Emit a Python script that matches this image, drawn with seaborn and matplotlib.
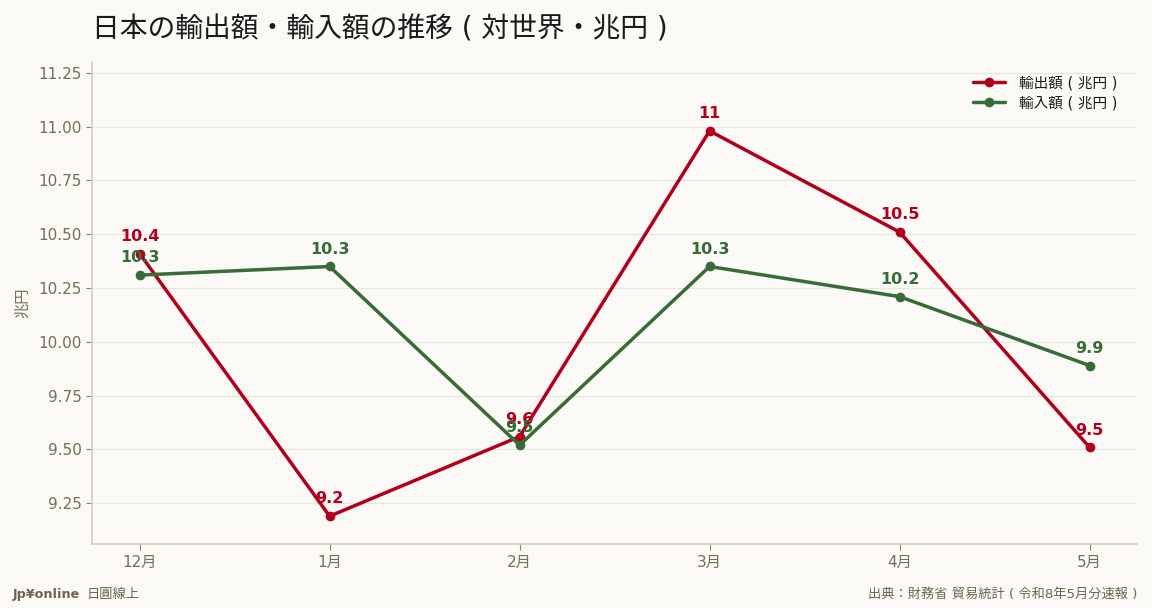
import pandas as pd
import matplotlib.pyplot as plt
import seaborn as sns

months = ["12月", "1月", "2月", "3月", "4月", "5月"]
exports = [10.41, 9.19, 9.56, 10.98, 10.51, 9.51]
imports = [10.31, 10.35, 9.52, 10.35, 10.21, 9.89]
series_names = ["輸出額 ( 兆円 )", "輸入額 ( 兆円 )"]

df = pd.DataFrame({
    "月": months * 2,
    "値": exports + imports,
    "系列": [series_names[0]] * len(months) + [series_names[1]] * len(months),
})

bg = "#FAF9F5"
red = "#B0001E"
green = "#376B38"
tick_col = "#7A6C57"

sns.set_theme(style="white")
plt.rcParams["font.family"] = ["DejaVu Sans", "Noto Sans CJK JP"]

fig, ax = plt.subplots(figsize=(11.52, 6.08), dpi=100)
fig.patch.set_facecolor(bg)
ax.set_facecolor(bg)
fig.subplots_adjust(left=0.08, right=0.987, top=0.898, bottom=0.105)

sns.lineplot(data=df, x="月", y="値", hue="系列", palette=[red, green],
             marker="o", markersize=7, markeredgewidth=0, linewidth=2.5,
             sort=False, ax=ax)

# value labels above each point
for vals, col in [(exports, red), (imports, green)]:
    for i, v in enumerate(vals):
        lab = f"{round(v, 1):g}"
        ax.annotate(lab, (i, v), xytext=(0, 7), textcoords="offset points",
                    ha="center", va="bottom", color=col, fontsize=11.5,
                    fontweight="bold")

ax.set_xlim(-0.25, 5.25)
ax.set_ylim(9.06, 11.30)
ax.set_yticks([9.25, 9.5, 9.75, 10.0, 10.25, 10.5, 10.75, 11.0, 11.25])
ax.set_yticklabels([f"{t:.2f}" for t in ax.get_yticks()])
ax.yaxis.grid(True, color="#E9E5DA", linewidth=0.8)
ax.xaxis.grid(False)
for s in ["top", "right"]:
    ax.spines[s].set_visible(False)
for s in ["left", "bottom"]:
    ax.spines[s].set_color("#D8D0BC")
ax.tick_params(axis="both", colors=tick_col, labelsize=11, length=4,
               width=0.8, left=True, bottom=True)
ax.tick_params(axis="both", color="#8A7E6A")
ax.set_xlabel("")
ax.set_ylabel("兆円", color=tick_col, fontsize=11, labelpad=6)

ax.set_title("日本の輸出額・輸入額の推移 ( 対世界・兆円 )", loc="left",
             fontsize=20, color="#1A1A1A", pad=18)

leg = ax.legend(loc="upper right", bbox_to_anchor=(0.994, 1.0), frameon=False,
                fontsize=10.5, handlelength=2.2, handletextpad=1.0,
                borderaxespad=0.5, labelspacing=0.35)
for t in leg.get_texts():
    t.set_color("#1A1A1A")

fig.text(0.011, 0.022, "Jp¥online", fontsize=9.2, fontweight="bold",
         color="#6F6450", ha="left", va="center")
fig.text(0.075, 0.022, "日圓線上", fontsize=9.5, color="#6F6450",
         ha="left", va="center")
fig.text(0.987, 0.022, "出典：財務省 貿易統計 ( 令和8年5月分速報 )", fontsize=9.5,
         color="#6F6450", ha="right", va="center")

fig.savefig("out.png", dpi=100, facecolor=bg)
